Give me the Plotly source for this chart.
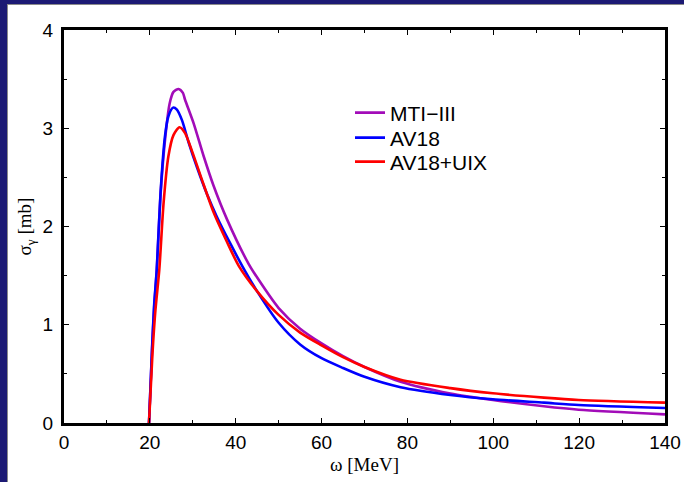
import plotly.graph_objects as go

# Photoabsorption cross section of 4He for three potential models
omega_mti = [19.8, 20.5, 21.0, 21.6, 22.5, 23.6, 24.6, 25.5, 26.7, 27.7, 28.2, 30.2, 32.5,
             34.8, 38.0, 43.0, 45.0, 50.0, 55.0, 60.0, 65.0, 70.0, 78.4, 90.0, 99.9,
             111.8, 119.9, 140.0]
sigma_mti = [0.0, 0.73, 1.18, 1.55, 2.33, 2.91, 3.25, 3.37, 3.40, 3.36, 3.29, 3.05, 2.72,
             2.42, 2.07, 1.62, 1.48, 1.17, 0.96, 0.81, 0.68, 0.57, 0.42, 0.30, 0.234,
             0.170, 0.135, 0.088]

omega_av18 = [19.8, 20.5, 21.0, 21.6, 22.5, 23.5, 24.3, 25.4, 26.3, 27.5, 29.0, 31.0, 33.3,
              35.6, 38.7, 41.5, 45.0, 50.0, 55.0, 60.0, 65.0, 70.0, 78.4, 90.0, 99.9,
              111.8, 119.9, 140.0]
sigma_av18 = [0.0, 0.75, 1.20, 1.56, 2.35, 2.91, 3.12, 3.21, 3.19, 3.08, 2.86, 2.60, 2.33,
              2.10, 1.83, 1.60, 1.34, 1.02, 0.80, 0.66, 0.56, 0.47, 0.364, 0.285, 0.241,
              0.207, 0.183, 0.153]

omega_uix = [19.8, 20.6, 21.3, 22.2, 23.2, 24.3, 25.5, 26.9, 28.2, 29.8, 32.1, 34.8, 38.0,
             40.7, 45.0, 50.0, 55.0, 60.0, 65.0, 70.0, 78.4, 90.0, 99.9, 111.8, 119.9, 140.0]
sigma_uix = [0.0, 0.70, 1.15, 1.56, 2.24, 2.71, 2.93, 3.01, 2.95, 2.77, 2.48, 2.15, 1.84,
             1.60, 1.34, 1.10, 0.92, 0.79, 0.67, 0.57, 0.44, 0.355, 0.302, 0.258, 0.234,
             0.207]

series = [
    ("MTI\u2212III", omega_mti, sigma_mti, "#a20cb8"),
    ("AV18", omega_av18, sigma_av18, "#0000ff"),
    ("AV18+UIX", omega_uix, sigma_uix, "#ff0000"),
]

W, H = 684, 482
ML, MR, MT, MB = 64, 19, 30, 59
pw, ph = W - ML - MR, H - MT - MB


def px_x(p):
    return (p - ML) / pw


def px_y(p):
    return 1 - (p - MT) / ph


legend_font = dict(family="Liberation Sans, Arial, sans-serif", size=21, color="black")
legend_rows = [113, 138, 162]
legend_ids = ["legend", "legend2", "legend3"]

fig = go.Figure()
for (name, xs, ys, color), lid in zip(series, legend_ids):
    fig.add_trace(go.Scatter(
        x=xs, y=ys, name=name, mode="lines", legend=lid,
        line=dict(color=color, width=2.6, shape="spline", smoothing=0.7),
    ))

navy = "#1c1a74"
shapes = [
    # slide frame: dark band on the left and on the top
    dict(type="rect", xref="paper", yref="paper", x0=px_x(0), x1=px_x(7),
         y0=px_y(H), y1=px_y(0), fillcolor=navy, line_width=0, layer="above"),
    dict(type="rect", xref="paper", yref="paper", x0=px_x(0), x1=px_x(W),
         y0=px_y(4), y1=px_y(0), fillcolor=navy, line_width=0, layer="above"),
    dict(type="line", xref="paper", yref="paper", x0=px_x(7.5), x1=px_x(7.5),
         y0=px_y(H), y1=px_y(4), line=dict(color="#8a8a8a", width=1)),
    dict(type="line", xref="paper", yref="paper", x0=px_x(7), x1=px_x(W),
         y0=px_y(4.5), y1=px_y(4.5), line=dict(color="#8a8a8a", width=1)),
]

tickfont = dict(family="Liberation Sans, Arial, sans-serif", size=19, color="black")
serif = "Liberation Serif, Times New Roman, serif"
axis_common = dict(
    showline=True, linecolor="black", linewidth=3, mirror="allticks",
    ticks="inside", ticklen=5, tickwidth=1.2, tickcolor="black",
    showgrid=False, zeroline=False, tickfont=tickfont, automargin=False,
)

legends = {}
for lid, row in zip(legend_ids, legend_rows):
    legends[lid] = dict(
        x=px_x(350), y=px_y(row), xanchor="left", yanchor="middle",
        bgcolor="rgba(0,0,0,0)", borderwidth=0, font=legend_font,
    )

fig.update_layout(
    width=W, height=H, autosize=False,
    margin=dict(l=ML, r=MR, t=MT, b=MB, pad=0),
    paper_bgcolor="white", plot_bgcolor="white",
    shapes=shapes,
    xaxis=dict(
        range=[0, 140], dtick=20, tick0=0,
        minor=dict(dtick=10, ticks="inside", ticklen=3, tickcolor="black", tickwidth=1),
        title=dict(text="\u03c9 [MeV]", standoff=6,
                   font=dict(family=serif, size=19, color="black")),
        **axis_common,
    ),
    yaxis=dict(
        range=[0, 4], dtick=1, tick0=0, ticklabelstandoff=4,
        minor=dict(dtick=0.5, ticks="inside", ticklen=3, tickcolor="black", tickwidth=1),
        title=dict(text="\u03c3<sub>\u03b3</sub> [mb]", standoff=6,
                   font=dict(family=serif, size=19, color="black")),
        **axis_common,
    ),
    showlegend=True,
    **legends,
)

fig.write_html("out.html")
